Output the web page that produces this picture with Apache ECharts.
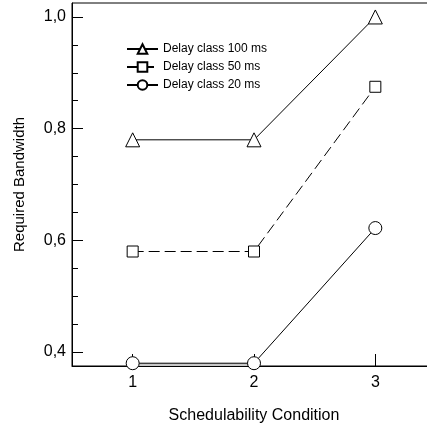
<!DOCTYPE html>
<html><head><meta charset="utf-8">
<script src="https://cdn.jsdelivr.net/npm/echarts@6/dist/echarts.min.js"></script>
<style>html,body{margin:0;padding:0;background:#fff}#c{width:427px;height:429px}</style>
</head><body><div id="c"></div>
<script>
const categories = [1, 2, 3];
const delay100 = [0.78, 0.78, 1.0];
const delay50 = [0.58, 0.58, 0.875];
const delay20 = [0.38, 0.38, 0.622];
const yMajorTicks = [0.4, 0.6, 0.8, 1.0];
const yMinorTicks = [0.45, 0.5, 0.55, 0.65, 0.7, 0.75, 0.85, 0.9, 0.95];
const xTicks = [1, 2, 3];

const font = 'Arial';
const pts = a => categories.map((c, i) => [c, a[i]]);
const fmt = v => v.toFixed(1).replace('.', ',');

const chart = echarts.init(document.getElementById('c'));
const common = {color: '#000', width: 1};
chart.setOption({
  animation: false,
  textStyle: {fontFamily: font},
  grid: {left: 72, top: 3, width: 364, height: 363, show: true, borderColor: '#000', borderWidth: 1,
         outerBoundsMode: 'none', containLabel: false},
  legend: {
    orient: 'vertical', left: 121, top: 38, itemWidth: 31, itemHeight: 12, itemGap: 6,
    textStyle: {fontFamily: font, fontSize: 12, color: '#000'},
    data: ['Delay class 100 ms', 'Delay class 50 ms', 'Delay class 20 ms']
  },
  xAxis: [{
    type: 'value', min: 0.5, max: 3.5,
    name: 'Schedulability Condition', nameLocation: 'middle', nameGap: 42,
    nameTextStyle: {fontFamily: font, fontSize: 16, color: '#000'},
    axisLine: {lineStyle: common},
    axisTick: {inside: true, length: 12, lineStyle: common, customValues: xTicks},
    axisLabel: {customValues: xTicks, fontFamily: font, fontSize: 16, color: '#000', margin: 9},
    splitLine: {show: false}
  }],
  yAxis: [{
    type: 'value', min: 0.375, max: 1.025,
    name: 'Required Bandwidth', nameLocation: 'middle', nameGap: 45, nameRotate: 90,
    nameTextStyle: {fontFamily: font, fontSize: 15, color: '#000'},
    axisLine: {lineStyle: common},
    axisTick: {inside: true, length: 11, lineStyle: common, customValues: yMajorTicks},
    axisLabel: {customValues: yMajorTicks, formatter: fmt, fontFamily: font, fontSize: 16, color: '#000', margin: 6},
    splitLine: {show: false}
  }, {
    type: 'value', min: 0.375, max: 1.025, position: 'left', name: '',
    axisLine: {show: false},
    axisTick: {inside: true, length: 6, lineStyle: common, customValues: yMinorTicks},
    axisLabel: {show: false},
    splitLine: {show: false}
  }],
  series: [
    {
      name: 'band', type: 'line', data: pts(delay20).slice(0, 2), symbol: 'none', silent: true,
      lineStyle: {width: 0}, areaStyle: {color: '#c8c8c8', origin: 'start', opacity: 1}, z: 1
    },
    {
      name: 'Delay class 100 ms', type: 'line', data: pts(delay100), symbol: 'triangle', symbolSize: 14,
      lineStyle: {color: '#000', width: 1}, itemStyle: {color: '#fff', borderColor: '#000', borderWidth: 1}, z: 3
    },
    {
      name: 'Delay class 50 ms', type: 'line', data: pts(delay50), symbol: 'rect', symbolSize: 11,
      lineStyle: {color: '#000', width: 1, type: [11, 5]}, itemStyle: {color: '#fff', borderColor: '#000', borderWidth: 1}, z: 3
    },
    {
      name: 'Delay class 20 ms', type: 'line', data: pts(delay20), symbol: 'circle', symbolSize: 13,
      lineStyle: {color: '#000', width: 1}, itemStyle: {color: '#fff', borderColor: '#000', borderWidth: 1}, z: 3
    }
  ]
});
</script></body></html>
